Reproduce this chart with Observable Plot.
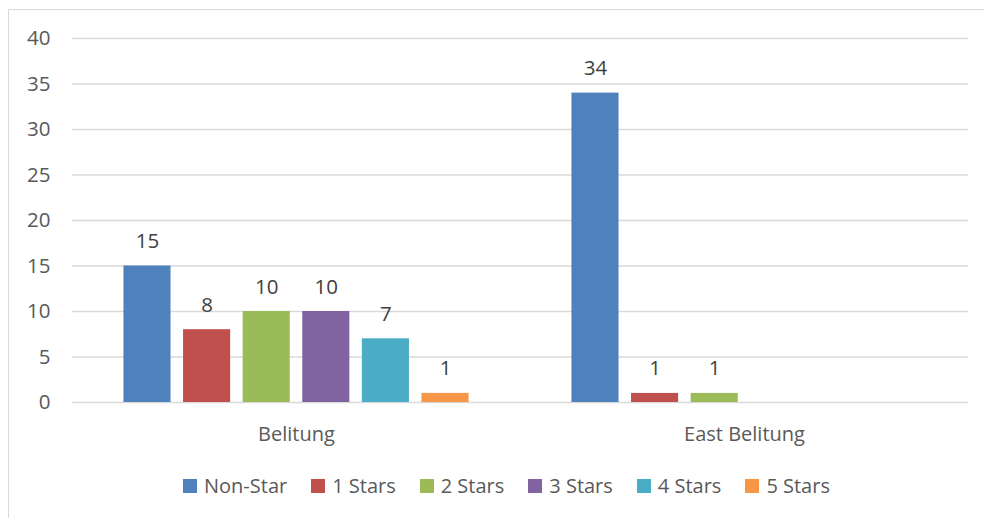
<!DOCTYPE html>
<html>
<head>
<meta charset="utf-8">
<script src="https://cdn.jsdelivr.net/npm/d3@7"></script>
<script src="https://cdn.jsdelivr.net/npm/@observablehq/plot@0.6"></script>
<style>
  html, body { margin: 0; padding: 0; background: #fff; }
  body { width: 984px; height: 518px; position: relative; overflow: hidden; font-family: "Open Sans", sans-serif; }
  #frame { position: absolute; left: 8px; top: 9px; width: 1100px; height: 1100px; border: 1.5px solid #d9d9d9; box-sizing: border-box; }
  #chart { position: absolute; left: 0; top: 0; }
  #legend { position: absolute; left: 183px; top: 472px; display: flex; align-items: center; font-size: 20px; color: #595959; white-space: nowrap; }
  .item { display: flex; align-items: center; margin-right: 24px; }
  .sw { width: 14px; height: 14px; margin-right: 7px; }
</style>
</head>
<body>
<div id="frame"></div>
<div id="chart"></div>
<div id="legend"></div>
<script>
const regions = ["Belitung", "East Belitung"];
const series = ["Non-Star", "1 Stars", "2 Stars", "3 Stars", "4 Stars", "5 Stars"];
const belitungValues = [15, 8, 10, 10, 7, 1];
const eastBelitungValues = [34, 1, 1, null, null, null];
const colors = ["#4F81BD", "#C0504D", "#9BBB59", "#8064A2", "#4BACC6", "#F79646"];
const yTicks = [0, 5, 10, 15, 20, 25, 30, 35, 40];

const valuesByRegion = [belitungValues, eastBelitungValues];
const data = [];
regions.forEach((r, i) => {
  series.forEach((s, j) => {
    const v = valuesByRegion[i][j];
    if (v != null) data.push({region: r, series: s, value: v});
  });
});

const chart = Plot.plot({
  width: 984,
  height: 450,
  marginTop: 38,
  marginBottom: 48,
  marginLeft: 72,
  marginRight: 16,
  style: {fontFamily: "Open Sans", fontSize: "20px", color: "#595959", background: "transparent"},
  fx: {domain: regions, padding: 0, round: false},
  x: {domain: series, paddingInner: 0.21, paddingOuter: 0.863, round: false, axis: null},
  y: {domain: [0, 40]},
  color: {domain: series, range: colors},
  marks: [
    Plot.gridY(yTicks, {stroke: "#d9d9d9", strokeOpacity: 1, strokeWidth: 1.3}),
    Plot.barY(data, {fx: "region", x: "series", y: "value", fill: "series"}),
    Plot.text(data, {fx: "region", x: "series", y: "value", text: d => String(d.value), lineAnchor: "bottom", dy: -18, fill: "#404040", fontSize: 20.5}),
    Plot.axisY({ticks: yTicks, tickSize: 0, tickPadding: 22, label: null, fontSize: 20.5}),
    Plot.axisFx({anchor: "bottom", tickSize: 0, tickPadding: 24, label: null, fontSize: 20})
  ]
});
document.getElementById("chart").appendChild(chart);

const legend = document.getElementById("legend");
series.forEach((s, i) => {
  const item = document.createElement("div");
  item.className = "item";
  const sw = document.createElement("div");
  sw.className = "sw";
  sw.style.background = colors[i];
  const t = document.createElement("span");
  t.textContent = s;
  item.appendChild(sw);
  item.appendChild(t);
  legend.appendChild(item);
});
</script>
</body>
</html>
